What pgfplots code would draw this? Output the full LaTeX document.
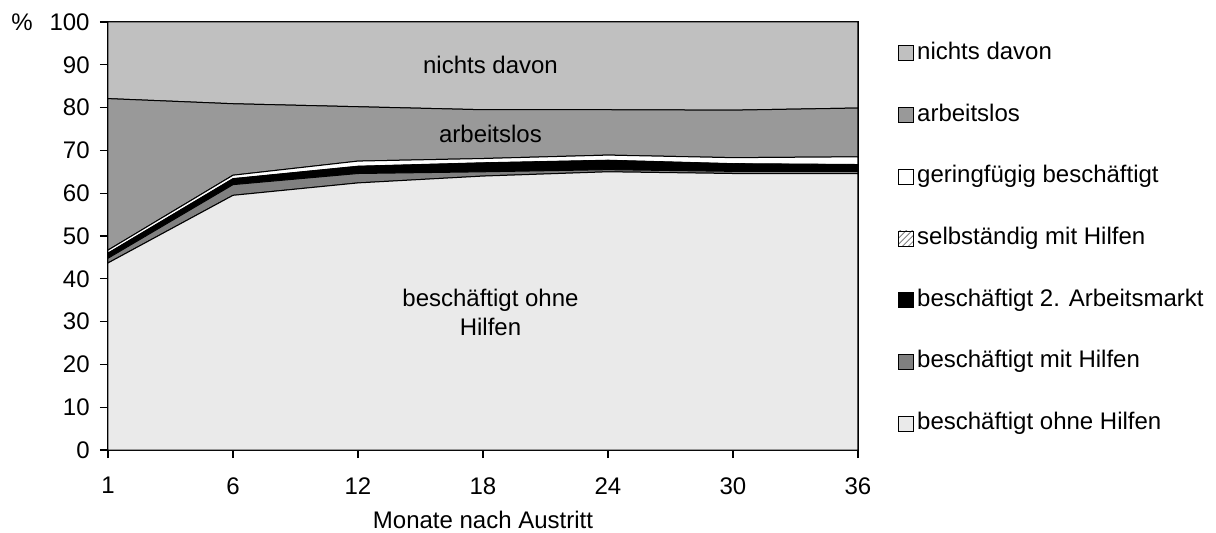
\documentclass[border=0pt]{standalone}
\usepackage{fontspec}
\setmainfont{Liberation Sans}
\usepackage{pgfplots}
\pgfplotsset{compat=1.18}
\usetikzlibrary{patterns}
\definecolor{cNichts}{HTML}{C0C0C0}
\definecolor{cArb}{HTML}{999999}
\definecolor{cMit}{HTML}{808080}
\definecolor{cOhne}{HTML}{EAEAEA}
\begin{document}
\fontsize{12bp}{14.4bp}\selectfont
\begin{tikzpicture}
\path[use as bounding box] (-54bp,-41.5bp) rectangle (554bp,225bp);
\begin{axis}[
  at={(0,0)}, anchor=south west,
  scale only axis, width=375bp, height=214bp,
  xmin=0, xmax=6, ymin=0, ymax=100,
  xtick={0,...,6}, xticklabels={1,6,12,18,24,30,36},
  ytick={0,10,...,100},
  /pgf/number format/assume math mode=true,
  tick align=outside, major tick length=4bp,
  xtick pos=left, ytick pos=left,
  axis line style={line width=0.6bp},
  tick style={line width=0.6bp, black},
  xticklabel style={yshift=-5.5bp},
  yticklabel style={xshift=-1bp},
  xlabel={Monate nach Austritt},
  xlabel style={yshift=0bp},
  stack plots=y,
  legend cell align=left,
  reverse legend,
  legend style={at={(1,0.5)}, anchor=west, xshift=20bp, yshift=-1.2bp, draw=none, fill=none,
    row sep=16.85bp, inner sep=0pt,
    nodes={inner sep=1.5bp, text height=8.5bp, text depth=2.5bp}},
  legend image code/.code={\draw[#1, line width=0.4bp] (0bp,-3.75bp) rectangle (7.5bp,3.75bp);},
  after end axis/.code={
    \node at (axis cs:3.06,89.9) {nichts davon};
    \node at (axis cs:3.06,73.8) {arbeitslos};
    \node[align=center, font=\fontsize{12bp}{14.5bp}\selectfont] at (axis cs:3.06,32.2) {beschäftigt ohne\\Hilfen};
    \node at (rel axis cs:0,1) [xshift=-43bp] {\%};
  },
]
\addplot[fill=cOhne, draw=black, line width=0.5bp] coordinates {(0,43.7) (1,59.5) (2,62.4) (3,64.0) (4,65.0) (5,64.6) (6,64.6)} \closedcycle;
\addlegendentry{beschäftigt ohne Hilfen}
\addplot[fill=cMit, draw=black, line width=0.5bp] coordinates {(0,1.1) (1,2.5) (2,2.2) (3,1.0) (4,0.5) (5,0.5) (6,0.5)} \closedcycle;
\addlegendentry{beschäftigt mit Hilfen}
\addplot[fill=black, draw=black, line width=0.5bp] coordinates {(0,1.0) (1,1.2) (2,1.5) (3,1.9) (4,2.0) (5,1.6) (6,1.4)} \closedcycle;
\addlegendentry{beschäftigt 2. Arbeitsmarkt}
\addplot[pattern=north east lines, pattern color=gray, draw=black, line width=0.3bp] coordinates {(0,0.2) (1,0.2) (2,0.2) (3,0.2) (4,0.2) (5,0.2) (6,0.2)} \closedcycle;
\addlegendentry{selbständig mit Hilfen}
\addplot[fill=white, draw=black, line width=0.5bp] coordinates {(0,0.7) (1,0.8) (2,1.2) (3,1.0) (4,1.2) (5,1.4) (6,1.8)} \closedcycle;
\addlegendentry{geringfügig beschäftigt}
\addplot[fill=cArb, draw=black, line width=0.5bp] coordinates {(0,35.4) (1,16.7) (2,12.7) (3,11.4) (4,10.6) (5,11.1) (6,11.4)} \closedcycle;
\addlegendentry{arbeitslos}
\addplot[fill=cNichts, draw=black, line width=0.5bp] coordinates {(0,17.9) (1,19.1) (2,19.8) (3,20.5) (4,20.5) (5,20.6) (6,20.1)} \closedcycle;
\addlegendentry{nichts davon}
\end{axis}
\end{tikzpicture}
\end{document}
